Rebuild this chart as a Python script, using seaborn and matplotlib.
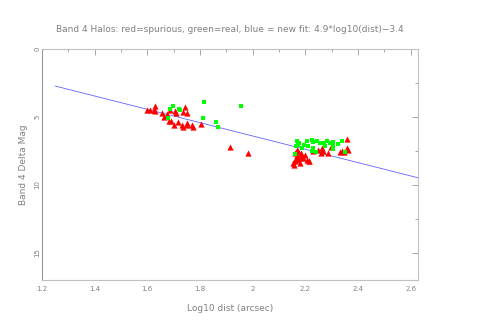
import numpy as np
import pandas as pd
import matplotlib
matplotlib.use("Agg")
import matplotlib.pyplot as plt
from matplotlib.ticker import MultipleLocator
import seaborn as sns

# spurious (red) sources: log10 dist, delta mag
red_x = [1.631, 1.597, 1.612, 1.630, 1.627, 1.654, 1.664, 1.675, 1.687, 1.681, 1.689,
         1.705, 1.702, 1.708, 1.716, 1.730, 1.736, 1.735, 1.744, 1.751, 1.749, 1.750,
         1.769, 1.772, 1.802, 1.915, 1.982,
         2.360, 2.167, 2.161, 2.170, 2.165, 2.173, 2.161, 2.157, 2.180, 2.186, 2.192,
         2.199, 2.182, 2.215, 2.205, 2.249, 2.262, 2.268, 2.259, 2.287, 2.332, 2.338,
         2.364, 2.360, 2.173, 2.214, 2.230, 2.298, 2.348, 2.155, 2.178]
red_y = [4.17, 4.51, 4.51, 4.58, 4.49, 4.71, 5.03, 4.78, 4.49, 5.29, 5.27,
         4.58, 5.56, 4.73, 5.37, 5.56, 5.76, 4.66, 4.24, 4.68, 5.47, 5.56,
         5.61, 5.76, 5.51, 7.23, 7.62,
         6.63, 7.41, 7.66, 7.78, 8.02, 8.14, 8.27, 8.51, 8.39, 7.90, 8.02,
         7.83, 7.66, 8.27, 8.14, 7.41, 7.29, 7.54, 7.66, 7.66, 7.60, 7.54,
         7.41, 7.29, 7.54, 8.27, 7.54, 7.22, 7.60, 8.40, 8.05]

# real (green) sources
green_x = [1.696, 1.688, 1.721, 1.726, 1.677, 1.817, 1.954, 1.810, 1.859, 1.867,
           2.167, 2.177, 2.205, 2.224, 2.230, 2.243, 2.256, 2.281, 2.294, 2.306,
           2.325, 2.338, 2.351, 2.161, 2.173, 2.186, 2.211, 2.230, 2.224, 2.241,
           2.275, 2.306, 2.165, 2.304, 2.270, 2.195]
green_y = [4.23, 4.40, 4.42, 4.52, 5.11, 3.87, 4.23, 5.11, 5.36, 5.72,
           6.80, 6.93, 6.75, 6.68, 6.85, 6.75, 6.93, 6.75, 6.93, 7.09,
           7.00, 6.80, 7.60, 7.73, 7.09, 7.29, 7.17, 7.29, 7.50, 7.60,
           7.17, 7.35, 7.17, 6.85, 6.95, 7.05]

# fit line: 4.9*log10(dist) - 3.4
fit_x = [1.25, 2.63]
fit_slope = 4.9
fit_icpt = -3.4

title = "Band 4 Halos: red=spurious, green=real, blue = new fit: 4.9*log10(dist)\u22123.4"
xlabel = "Log10 dist (arcsec)"
ylabel = "Band 4 Delta Mag"
xticks = [1.2, 1.4, 1.6, 1.8, 2.0, 2.2, 2.4, 2.6]
xticklabels = ["1.2", "1.4", "1.6", "1.8", "2", "2.2", "2.4", "2.6"]
yticks = [0, 5, 10, 15]

sns.set_style("white")
plt.rcParams['font.family'] = ['DejaVu Sans']
txt = "#808080"

fig = plt.figure(figsize=(4.91, 3.32), dpi=100)
ax = fig.add_axes([42 / 491, 1 - 280 / 332, (418 - 42) / 491, (280 - 49) / 332])

fit_df = pd.DataFrame({"x": fit_x, "y": [fit_slope * v + fit_icpt for v in fit_x]})
sns.lineplot(data=fit_df, x="x", y="y", ax=ax, color="#2020ff", lw=0.6, alpha=0.7)

red_df = pd.DataFrame({"x": red_x, "y": red_y})
green_df = pd.DataFrame({"x": green_x, "y": green_y})
sns.scatterplot(data=red_df, x="x", y="y", ax=ax, marker="^", color="#ff0000",
                s=20, linewidth=0, zorder=3)
sns.scatterplot(data=green_df, x="x", y="y", ax=ax, marker="s", color="#00ff00",
                s=7, linewidth=0, zorder=4)

ax.set_xlim(1.2, 2.628)
ax.set_ylim(17, 0)
ax.set_xticks(xticks)
ax.set_xticklabels(xticklabels)
ax.set_yticks(yticks)
ax.set_yticklabels([str(v) for v in yticks], rotation=90, va="center")
ax.xaxis.set_minor_locator(MultipleLocator(0.1))
ax.yaxis.set_minor_locator(MultipleLocator(2.5))
ax.tick_params(which="both", direction="in", top=True, right=True, colors="#999999",
               labelcolor=txt, labelsize=5)
ax.tick_params(which="major", length=4, width=0.6)
ax.tick_params(which="minor", length=2, width=0.6)
ax.tick_params(axis="x", pad=4)
ax.tick_params(axis="y", pad=1)
for s in ax.spines.values():
    s.set_color("#c0c0c0")
    s.set_linewidth(0.8)
ax.spines["left"].set_color("#999999")

ax.set_xlabel(xlabel, fontsize=6.5, color=txt, labelpad=9)
ax.set_ylabel(ylabel, fontsize=6.5, color=txt, labelpad=5)
ax.set_title(title, fontsize=6.45, color=txt, pad=12)

fig.savefig("out.png", dpi=100)
